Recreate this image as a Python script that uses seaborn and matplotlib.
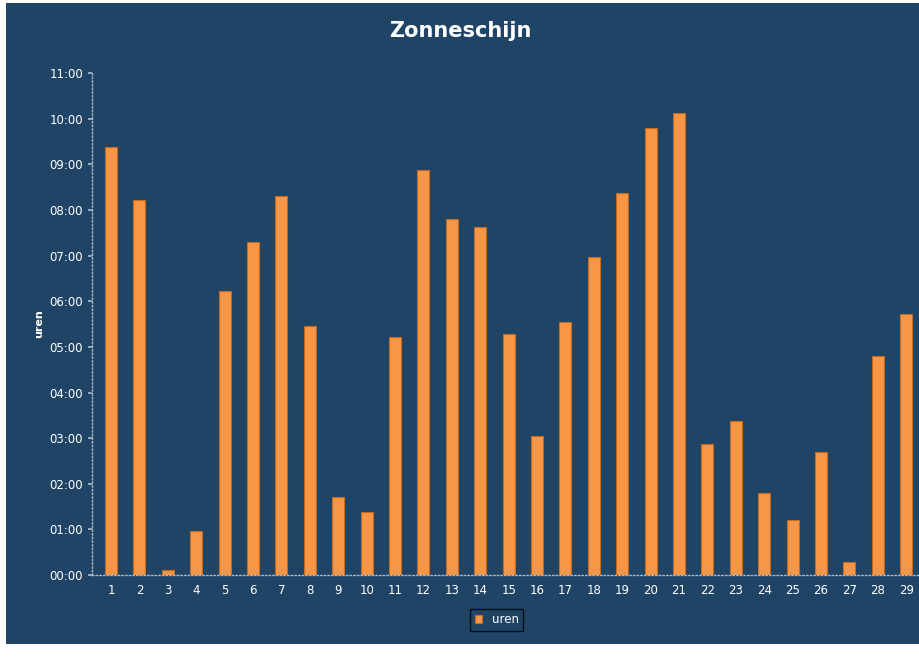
import matplotlib
matplotlib.use('Agg')
import matplotlib.pyplot as plt
import seaborn as sns
import pandas as pd
from matplotlib.ticker import FuncFormatter, MultipleLocator

# Zonneschijn per dag, in uren
dagen = list(range(1, 30))
uren = [9.39, 8.22, 0.10, 0.96, 6.23, 7.30, 8.31, 5.46, 1.71, 1.38,
        5.22, 8.88, 7.81, 7.63, 5.29, 3.05, 5.55, 6.97, 8.38, 9.80,
        10.13, 2.87, 3.38, 1.80, 1.21, 2.70, 0.29, 4.80, 5.72]

df = pd.DataFrame({'dag': dagen, 'uren': uren})

achtergrond = '#1f4466'
oranje = '#f79646'

sns.set_theme(style='dark')
plt.rcParams['font.family'] = ['DejaVu Sans']

fig = plt.figure(figsize=(9.2, 6.71), dpi=100, facecolor='white')
# donker paneel met witte rand
paneel = fig.add_axes([0.006, 0.04, 0.994, 0.955])
paneel.set_facecolor(achtergrond)
paneel.set_xticks([]); paneel.set_yticks([])
for s in paneel.spines.values():
    s.set_visible(False)

ax = fig.add_axes([0.1, 0.143, 0.898, 0.748])
ax.set_facecolor(achtergrond)
sns.barplot(data=df, x='dag', y='uren', color=oranje, width=0.42,
            edgecolor='#c86a1e', linewidth=0.8, saturation=1, ax=ax,
            label='uren')

ax.set_ylim(0, 11)
ax.set_xlim(-0.67, 28.42)
ax.yaxis.set_major_locator(MultipleLocator(1))
ax.yaxis.set_major_formatter(FuncFormatter(lambda v, p: f'{int(round(v)):02d}:00'))
ax.tick_params(colors='white', labelsize=8.5, length=3)
ax.tick_params(axis='y', left=True, color='#aab8c8')
ax.set_xlabel('')
ax.set_ylabel('uren', color='white', fontsize=8, fontweight='bold')
ax.grid(False)
for k in ['top', 'right']:
    ax.spines[k].set_visible(False)
for k in ['left', 'bottom']:
    ax.spines[k].set_color('#aab8c8')
    ax.spines[k].set_linestyle(':')
    ax.spines[k].set_linewidth(1)

fig.suptitle('Zonneschijn', color='white', fontsize=15, fontweight='bold', y=0.968)

leg = ax.legend(loc='upper center', bbox_to_anchor=(0.49, -0.055), frameon=True,
                fontsize=8.5, handlelength=0.6, handleheight=0.6, fancybox=False,
                borderpad=0.4)
leg.get_frame().set_facecolor(achtergrond)
leg.get_frame().set_edgecolor('black')
for t in leg.get_texts():
    t.set_color('white')

fig.savefig('out.png', dpi=100, facecolor='white')
